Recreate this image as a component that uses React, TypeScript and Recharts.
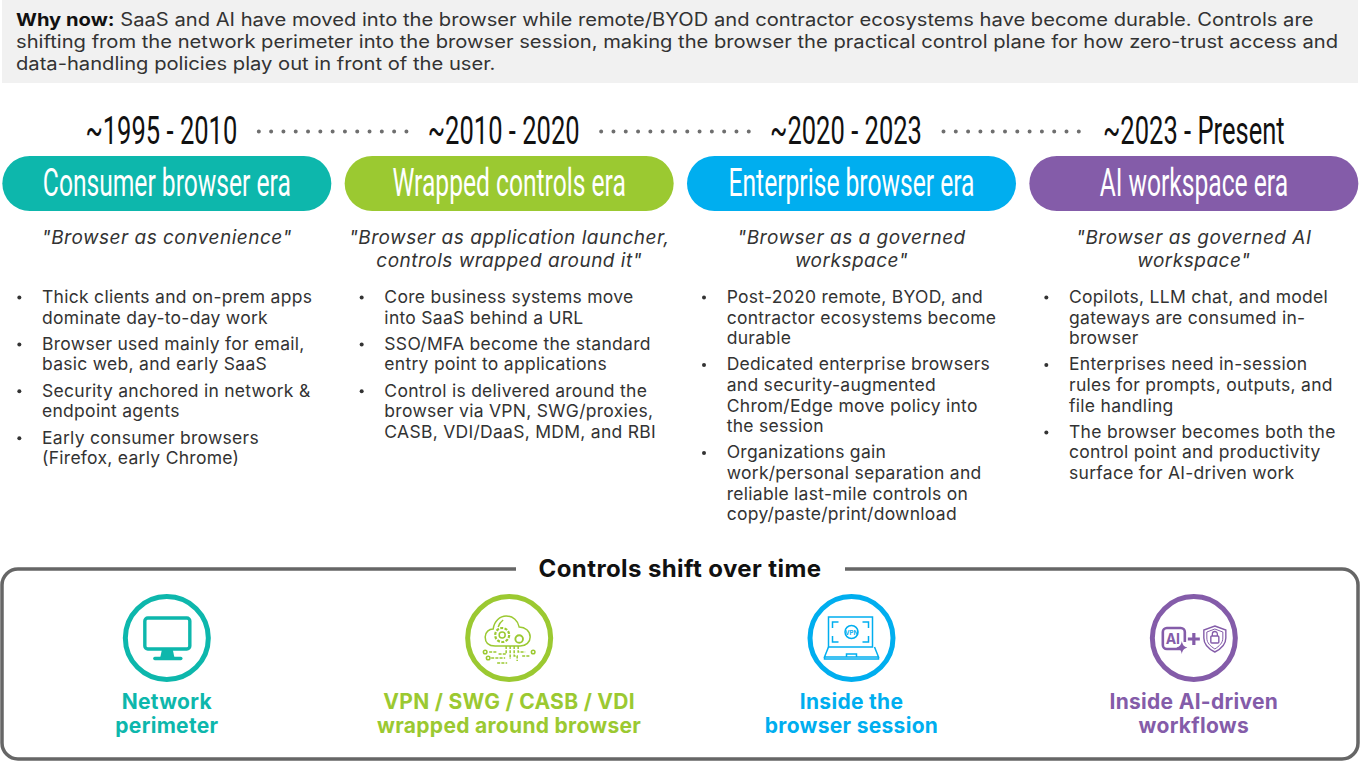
import React from "react";
import { BarChart, Bar, XAxis, YAxis } from "recharts";

// ---- content ----
const whyNowLead = "Why now:";
const whyNowLines = [
  " SaaS and AI have moved into the browser while remote/BYOD and contractor ecosystems have become durable. Controls are",
  "shifting from the network perimeter into the browser session, making the browser the practical control plane for how zero-trust access and",
  "data-handling policies play out in front of the user.",
];
const eraNames = ["Consumer browser era", "Wrapped controls era", "Enterprise browser era", "AI workspace era"];
const eraYears = ["~1995 - 2010", "~2010 - 2020", "~2020 - 2023", "~2023 - Present"];
const eraPresence = [1, 1, 1, 1];
const eraQuotes = [
  ['"Browser as convenience"'],
  ['"Browser as application launcher,', 'controls wrapped around it"'],
  ['"Browser as a governed', 'workspace"'],
  ['"Browser as governed AI', 'workspace"'],
];
const eraBullets = [
  [
    ["Thick clients and on-prem apps", "dominate day-to-day work"],
    ["Browser used mainly for email,", "basic web, and early SaaS"],
    ["Security anchored in network &", "endpoint agents"],
    ["Early consumer browsers", "(Firefox, early Chrome)"],
  ],
  [
    ["Core business systems move", "into SaaS behind a URL"],
    ["SSO/MFA become the standard", "entry point to applications"],
    ["Control is delivered around the", "browser via VPN, SWG/proxies,", "CASB, VDI/DaaS, MDM, and RBI"],
  ],
  [
    ["Post-2020 remote, BYOD, and", "contractor ecosystems become", "durable"],
    ["Dedicated enterprise browsers", "and security-augmented", "Chrom/Edge move policy into", "the session"],
    ["Organizations gain", "work/personal separation and", "reliable last-mile controls on", "copy/paste/print/download"],
  ],
  [
    ["Copilots, LLM chat, and model", "gateways are consumed in-", "browser"],
    ["Enterprises need in-session", "rules for prompts, outputs, and", "file handling"],
    ["The browser becomes both the", "control point and productivity", "surface for AI-driven work"],
  ],
];
const shiftTitle = "Controls shift over time";
const shiftCaptions = [
  ["Network", "perimeter"],
  ["VPN / SWG / CASB / VDI", "wrapped around browser"],
  ["Inside the", "browser session"],
  ["Inside AI-driven", "workflows"],
];
const chartRows = eraNames.map((era, i) => ({ era, present: eraPresence[i] }));

// ---- styling ----
const palette = ["#0DB7AC", "#9BC931", "#00AEEF", "#845CA9"];
const BODY = "Inter, 'Open Sans', sans-serif";
const COND = "Roboto, sans-serif";
const INK = "#333";

const Condensed = ({ cx, y, size, sx, fill, weight, children }: any) => (
  <text
    transform={`translate(${cx},${y}) scale(${sx},1)`}
    textAnchor="middle"
    fontFamily={COND}
    fontSize={size}
    fontWeight={weight}
    fill={fill}
  >
    {children}
  </text>
);

const Icon = ({ i, cx, color }: any) => {
  const cy = 638;
  const thin = { fill: "none", stroke: color, strokeWidth: 1.5 } as const;
  if (i === 0) {
    return (
      <g transform={`translate(${cx},${cy})`} fill="none" stroke={color} strokeWidth={3.4}>
        <rect x={-22} y={-20} width={45} height={31} rx={3} />
        <path d="M-5 12h11l1.500 7h-14z" fill={color} strokeWidth={0} />
        <path d="M-12 20.500H14" strokeWidth={3.4} strokeLinecap="round" />
      </g>
    );
  }
  if (i === 1) {
    return (
      <g transform={`translate(${cx},${cy})`} {...thin}>
        <path d="M-14 8c-7 0-10-4-10-9 0-5 4-8 8-8 1-8 7-13 13-13 7 0 12 5 13 11 6 0 11 4 11 10 0 5-4 9-10 9H-14z" />
        <path d="M-6 -18c-3 2-4 4-5 7" />
        <circle cx={-7} cy={-3} r={3} />
        <circle cx={-7} cy={-3} r={7} strokeDasharray="3 1.4" strokeWidth={2.2} />
        <circle cx={10} cy={1} r={3.8} strokeWidth={1.9} />
        <path d="M-3 8v8h-8M1 8v13M5 8v10h3v5M9 8v6h7M-20 14h8M-18 20h14M-12 25h10M13 18h8" strokeDasharray="3 1.2" />
        <circle cx={-24} cy={14} r={1.8} />
        <circle cx={-21} cy={20} r={1.8} />
        <circle cx={24} cy={14} r={1.8} />
      </g>
    );
  }
  if (i === 2) {
    return (
      <g transform={`translate(${cx},${cy})`} {...thin}>
        <rect x={-23} y={-21} width={44} height={30} />
        <path d="M-19 -10v-6h6M11 -16h6v6M17 -2v6h-6M-13 4h-6v-6" />
        <path d="M-23 9l-4 10h54l-4-10M-27 19v2h54v-2M-5 19v-3h10v3" />
        <circle cx={0} cy={-6} r={6.500} />
        <text x={0} y={-3.500} textAnchor="middle" fontFamily={BODY} fontWeight={700} fontSize={6} fill={color} stroke="none">VPN</text>
      </g>
    );
  }
  return (
    <g transform={`translate(${cx},${cy})`} fill="none" stroke={color}>
      <path d="M-12 11h-15a4 4 0 0 1-4-4v-13a4 4 0 0 1 4-4h14a4 4 0 0 1 4 4v10" strokeWidth={2.6} />
      <text x={-21} y={6} textAnchor="middle" fontFamily={BODY} fontWeight={700} fontSize={14} fill={color} stroke="none">AI</text>
      <path d="M-12 3c.8 4 2 5.500 5.500 6.500-3.500 1-4.700 2.500-5.500 6.500-.8-4-2-5.500-5.500-6.500 3.500-1 4.700-2.500 5.500-6.500z" fill={color} stroke="none" />
      <path d="M-6 1H6M0 -5V7" strokeWidth={3.2} />
      <path d="M21 -12l11 4v8c0 7-5 11-11 14-6-3-11-7-11-14v-8z" strokeWidth={1.4} />
      <path d="M21 -9l8 3v6c0 5-3.500 8-8 11-4.500-3-8-6-8-11v-6z" strokeWidth={1} />
      <rect x={17} y={-2} width={8} height={7} rx={1} strokeWidth={1.4} />
      <path d="M18.500 -2v-2a2.500 2.500 0 0 1 5 0v2" strokeWidth={1.3} />
    </g>
  );
};

const EraColumn = (props: any) => {
  const { x, y, width, height, index } = props;
  const cx = x + width / 2;
  const color = palette[index];
  const groups = eraBullets[index];
  const quote = eraQuotes[index];
  let base = 303;
  const bulletEls: React.ReactNode[] = [];
  groups.forEach((lines, g) => {
    bulletEls.push(<circle key={`d${g}`} cx={cx - 147.5} cy={base - 5.5} r={2} fill={INK} />);
    lines.forEach((line, l) => {
      bulletEls.push(
        <text key={`${g}-${l}`} x={cx - 124.8} y={base} fontFamily={BODY} fontSize={17.5} letterSpacing={0.28} fill={INK}>
          {line}
        </text>,
      );
      base += 20.55;
    });
    base += 5.8;
  });
  return (
    <g>
      <rect x={x} y={y} width={width} height={height} rx={height / 2} fill={color} />
      <Condensed cx={cx} y={y + 40} size={38} sx={0.648} fill="#fff">{eraNames[index]}</Condensed>
      <Condensed cx={cx - 5.5 + (index === 3 ? 5.5 : 0)} y={144} size={39} sx={0.655} fill="#111">{eraYears[index]}</Condensed>
      {index < 3 && (
        <line
          x1={cx + 92}
          x2={cx + (index === 2 ? 228 : 240)}
          y1={131.5}
          y2={131.5}
          stroke="#6E6E6E"
          strokeWidth={4}
          strokeLinecap="round"
          strokeDasharray="0 12.3"
        />
      )}
      {quote.map((line, q) => (
        <text key={q} x={cx} y={243.5 + q * 23} textAnchor="middle" fontFamily={BODY} fontStyle="italic" fontSize={19} letterSpacing={0.5} fill={INK}>
          {line}
        </text>
      ))}
      {bulletEls}
      <circle cx={cx} cy={638} r={41.5} fill="#fff" stroke={color} strokeWidth={5} />
      <Icon i={index} cx={cx} color={color} />
      {shiftCaptions[index].map((line, c) => (
        <text key={c} x={cx} y={709 + c * 24} textAnchor="middle" fontFamily={BODY} fontWeight={700} fontSize={21} letterSpacing={0.3} fill={color}>
          {line}
        </text>
      ))}
    </g>
  );
};

export default function App() {
  return (
    <div style={{ position: "absolute", left: 0, top: 0, width: 1360, height: 762, overflow: "hidden", background: "#fff" }}>
      <BarChart
        width={1360}
        height={762}
        data={chartRows}
        margin={{ top: 156, bottom: 551, left: -4.67, right: -4.67 }}
      >
        <rect x={2} y={0} width={1356} height={83} fill="#F1F1F1" />
        {whyNowLines.map((line, i) => (
          <text key={i} transform={`translate(16,${25.5 + i * 22.3}) scale(1.12,1)`} fontFamily={BODY} fontSize={18} fill={INK}>
            {i === 0 && <tspan fontWeight={700} fill="#111">{whyNowLead}</tspan>}
            {line}
          </text>
        ))}
        <rect x={2} y={569} width={1356} height={190} rx={16} fill="none" stroke="#666" strokeWidth={3.5} />
        <rect x={516} y={560} width={329} height={18} fill="#fff" />
        <text x={680} y={576.5} textAnchor="middle" fontFamily={BODY} fontWeight={700} fontSize={24} letterSpacing={0.4} fill="#111">
          {shiftTitle}
        </text>
        <XAxis dataKey="era" type="category" hide />
        <YAxis type="number" domain={[0, 1]} hide />
        <Bar dataKey="present" barSize={329} isAnimationActive={false} shape={EraColumn} />
      </BarChart>
    </div>
  );
}
